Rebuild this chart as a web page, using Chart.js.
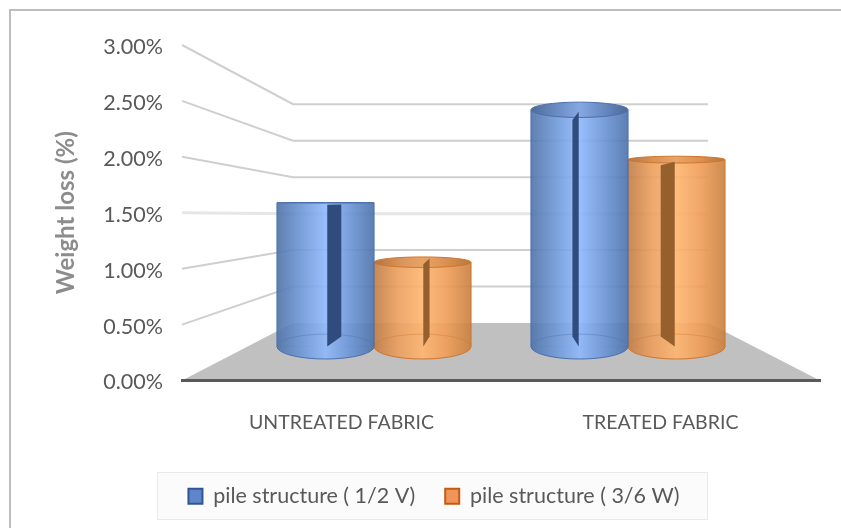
<!DOCTYPE html>
<html>
<head>
<meta charset="utf-8">
<script src="https://cdn.jsdelivr.net/npm/chart.js@4"></script>
<style>
	html, body { margin: 0; padding: 0; background: #fff; }
	#wrap { position: relative; width: 841px; height: 528px; }
	#frame { position: absolute; left: 9px; top: 9px; right: 0; bottom: 0; border-left: 2px solid #bdbdbd; border-top: 2px solid #bdbdbd; pointer-events: none; }
</style>
</head>
<body>
<div id="wrap">
	<canvas id="chart" width="841" height="528"></canvas>
	<div id="frame"></div>
</div>
<script>
const categories = ['UNTREATED FABRIC', 'TREATED FABRIC'];
const pileHalfV = [1.50, 2.47];
const pileThreeSixW = [0.88, 1.95];
const seriesNames = ['pile structure ( 1/2 V)', 'pile structure ( 3/6 W)'];
const yTicks = [0, 0.5, 1, 1.5, 2, 2.5, 3];

// look of the fake 3D box
const BAR_W = 97;
const BACK_LEFT = 293, BACK_RIGHT = 708, BACK_ZERO = 323, BACK_RATIO = 0.652;
const EYE_Y = 200;

const looks = [
	{ stops: ['#4f73a8', '#6e97d6', '#8fb8fb', '#6c95d6', '#4d72aa'], edge: '#4a70ad', slit: '#2f4c7c', legend: '#5f86c8', legendEdge: '#2f5597' },
	{ stops: ['#c27d45', '#eb9f5f', '#ffb56f', '#ef9d58', '#c9803f'], edge: '#d0752c', slit: '#96602c', legend: '#f0955a', legendEdge: '#c55a11' }
];

function sideFill(ctx, left, look, alpha) {
	const g = ctx.createLinearGradient(left, 0, left + BAR_W, 0);
	look.stops.forEach((c, i) => g.addColorStop(i / (look.stops.length - 1), c + (alpha || '')));
	return g;
}

function barLeft(chart, datasetIndex, index) {
	const mid = chart.scales.xBars.getPixelForValue(index + 1);
	return datasetIndex === 0 ? mid - BAR_W : mid;
}

function ryAt(y) {
	return Math.abs(y - EYE_Y) * 0.085;
}

const box3d = {
	id: 'box3d',
	beforeDraw(chart) {
		const ctx = chart.ctx;
		const area = chart.chartArea;
		const y = chart.scales.y;
		const zero = y.getPixelForValue(0);

		// legend box
		const hits = chart.legend.legendHitBoxes;
		const lx = hits[0].left - 31;
		const rx = hits[hits.length - 1].left + hits[hits.length - 1].width + 28;
		ctx.save();
		ctx.fillStyle = '#fbfbfb';
		ctx.strokeStyle = '#e9e9e9';
		ctx.fillRect(lx, hits[0].top - 13, rx - lx, 47);
		ctx.strokeRect(lx, hits[0].top - 13, rx - lx, 47);

		// floor
		ctx.fillStyle = '#c0c0c0';
		ctx.beginPath();
		ctx.moveTo(area.left, zero);
		ctx.lineTo(BACK_LEFT, BACK_ZERO);
		ctx.lineTo(BACK_RIGHT, BACK_ZERO);
		ctx.lineTo(area.right, zero);
		ctx.closePath();
		ctx.fill();

		// walls, every line starts at its tick on the front axis
		yTicks.forEach(v => {
			if (v === 0) return;
			const py = y.getPixelForValue(v);
			const back = BACK_ZERO + (py - zero) * BACK_RATIO;
			ctx.strokeStyle = v === 1.5 ? '#e6e6e6' : '#cfcfcf';
			ctx.lineWidth = v === 1.5 ? 3 : 2;
			ctx.beginPath();
			ctx.moveTo(area.left, py);
			ctx.lineTo(BACK_LEFT, back);
			ctx.lineTo(BACK_RIGHT, back);
			ctx.stroke();
		});
		ctx.restore();
	},
	beforeDatasetDraw(chart, args) {
		const ctx = chart.ctx;
		const look = looks[args.index];
		args.meta.data.forEach((bar, i) => {
			const left = barLeft(chart, args.index, i);
			const base = bar.base;
			ctx.save();
			ctx.fillStyle = sideFill(ctx, left, look, 'e8');
			ctx.beginPath();
			ctx.ellipse(left + BAR_W / 2, base, BAR_W / 2, ryAt(base), 0, 0, Math.PI);
			ctx.fill();
			ctx.strokeStyle = look.edge;
			ctx.stroke();
			ctx.restore();
		});
	},
	afterDatasetDraw(chart, args) {
		const ctx = chart.ctx;
		const look = looks[args.index];
		const vanish = (chart.chartArea.left + chart.chartArea.right) / 2;
		args.meta.data.forEach((bar, i) => {
			const left = barLeft(chart, args.index, i);
			const cx = left + BAR_W / 2;
			const top = bar.y, base = bar.base;
			ctx.save();

			// far side of the floor ring
			ctx.strokeStyle = look.edge;
			ctx.globalAlpha = 0.4;
			ctx.beginPath();
			ctx.ellipse(cx, base, BAR_W / 2, ryAt(base), 0, Math.PI, Math.PI * 2);
			ctx.stroke();

			// side edges
			ctx.globalAlpha = 0.8;
			ctx.beginPath();
			ctx.moveTo(left, top);
			ctx.lineTo(left, base);
			ctx.moveTo(left + BAR_W, top);
			ctx.lineTo(left + BAR_W, base);
			ctx.stroke();

			// lid
			ctx.globalAlpha = 1;
			ctx.fillStyle = sideFill(ctx, left, look);
			ctx.beginPath();
			ctx.ellipse(cx, top, BAR_W / 2, ryAt(top), 0, 0, Math.PI * 2);
			ctx.fill();
			ctx.fillStyle = 'rgba(70,50,40,0.12)';
			ctx.fill();
			ctx.stroke();

			// dark wedge
			const near = cx + (vanish - cx) * 0.01;
			const far = cx + (vanish - cx) * 0.09;
			ctx.fillStyle = look.slit;
			ctx.beginPath();
			ctx.moveTo(near, top + 2);
			ctx.lineTo(far, top + (EYE_Y - top) * 0.09 + 2);
			ctx.lineTo(far, base - 10);
			ctx.lineTo(near, base);
			ctx.closePath();
			ctx.fill();
			ctx.restore();
		});
	}
};

function makeDataset(name, values, k) {
	return {
		label: name,
		data: values.map((v, i) => ({ x: i + 1, y: v })),
		xAxisID: 'xBars',
		yAxisID: 'yBars',
		barThickness: BAR_W,
		borderWidth: 0,
		backgroundColor: c => {
			if (!c.chart.chartArea || c.dataIndex === undefined) return looks[k].legend;
			return sideFill(c.chart.ctx, barLeft(c.chart, k, c.dataIndex), looks[k], 'e8');
		}
	};
}

const tickColor = '#595959';
const chart = new Chart(document.querySelector('#chart'), {
	type: 'bar',
	data: {
		labels: categories,
		datasets: [
			makeDataset(seriesNames[0], pileHalfV, 0),
			makeDataset(seriesNames[1], pileThreeSixW, 1)
		]
	},
	plugins: [box3d],
	options: {
		responsive: false,
		animation: false,
		layout: { padding: { top: 45, left: 48, right: 21, bottom: 11 } },
		plugins: {
			tooltip: { enabled: false },
			legend: {
				position: 'bottom',
				labels: {
					padding: 30,
					boxWidth: 14,
					boxHeight: 15,
					color: tickColor,
					font: { family: 'Lato', size: 21.5 },
					generateLabels: ch => ch.data.datasets.map((d, i) => ({
						text: d.label,
						fillStyle: looks[i].legend,
						strokeStyle: looks[i].legendEdge,
						lineWidth: 2,
						datasetIndex: i,
						fontColor: tickColor
					}))
				}
			}
		},
		scales: {
			x: {
				type: 'category',
				offset: true,
				grid: { display: false, drawTicks: false },
				border: { display: true, color: '#595959', width: 3 },
				ticks: { color: tickColor, padding: 31, maxRotation: 0, font: { family: 'Lato', size: 19.5 } },
				afterFit: s => { s.height = 75; }
			},
			y: {
				type: 'linear',
				min: 0,
				max: 3,
				grid: { display: false, drawTicks: false },
				border: { display: false },
				afterBuildTicks: s => { s.ticks = yTicks.map(v => ({ value: v })); },
				ticks: { color: tickColor, padding: 19, labelOffset: 2, font: { family: 'Lato', size: 21.5 }, callback: v => v.toFixed(2) + '%' },
				title: { display: true, text: 'Weight loss (%)', color: '#8c8c8c', font: { family: 'Lato', size: 24, weight: 'bold' }, padding: { top: 4, bottom: 0 } },
				afterFit: s => { s.width = 134; }
			},
			// the round bars stand in the middle of the floor, so they get their own hidden axes
			xBars: { type: 'linear', axis: 'x', display: false, offset: false, min: 0.244, max: 2.756, grid: { display: false } },
			yBars: { type: 'linear', axis: 'y', display: false, min: -0.354, max: 3.146, grid: { display: false } }
		}
	}
});
</script>
</body>
</html>
